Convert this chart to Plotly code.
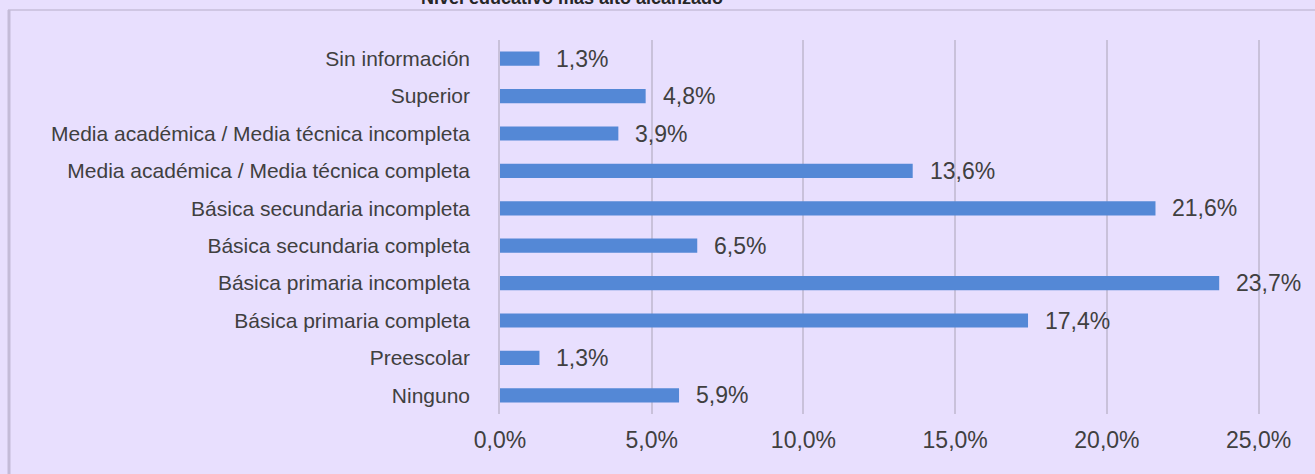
import plotly.graph_objects as go

categories = ["Ninguno", "Preescolar", "Básica primaria completa", "Básica primaria incompleta",
              "Básica secundaria completa", "Básica secundaria incompleta",
              "Media académica / Media técnica completa", "Media académica / Media técnica incompleta",
              "Superior", "Sin información"]
values = [5.9, 1.3, 17.4, 23.7, 6.5, 21.6, 13.6, 3.9, 4.8, 1.3]
value_labels = ["5,9%", "1,3%", "17,4%", "23,7%", "6,5%", "21,6%", "13,6%", "3,9%", "4,8%", "1,3%"]
tick_vals = [0, 5, 10, 15, 20, 25]
tick_text = ["0,0%", "5,0%", "10,0%", "15,0%", "20,0%", "25,0%"]
title = "Nivel educativo más alto alcanzado"

BG = "#E8DFFE"
GRID = "#C9C1DA"
FONT = "Liberation Sans, Arial, sans-serif"
TXT = "#404040"

W, H = 1315, 474
ml, mr, mt, mb = 500, 26, 40, 60
pw, ph = W - ml - mr, H - mt - mb

fig = go.Figure(go.Bar(
    x=values, y=categories, orientation="h",
    marker=dict(color="#5488D6", line=dict(width=0)),
    width=0.38, hoverinfo="skip",
))

for v, c, t in zip(values, categories, value_labels):
    fig.add_annotation(x=v, y=c, text=t, xanchor="left", yanchor="middle",
                       xshift=15, showarrow=False,
                       font=dict(family=FONT, size=23, color=TXT))

def px_x(p):
    return (p - ml) / pw

def px_y(p):
    return 1 - (p - mt) / ph

# outer chart frame
fig.add_shape(type="rect", xref="paper", yref="paper",
              x0=px_x(9), x1=px_x(1400), y0=px_y(600), y1=px_y(10),
              line=dict(color="#CFC6E3", width=2), fillcolor="rgba(0,0,0,0)", layer="below")
fig.add_shape(type="line", xref="paper", yref="paper",
              x0=px_x(9), x1=px_x(9), y0=px_y(600), y1=px_y(10),
              line=dict(color="#C4BBD8", width=3), layer="below")

fig.add_annotation(xref="paper", yref="paper", x=px_x(572), y=px_y(-2),
                   text="<b>" + title + "</b>", showarrow=False,
                   xanchor="center", yanchor="middle",
                   font=dict(family=FONT, size=18, color="#262626"))

fig.update_layout(
    width=W, height=H,
    margin=dict(l=ml, r=mr, t=mt, b=mb),
    paper_bgcolor=BG, plot_bgcolor=BG,
    showlegend=False,
    font=dict(family=FONT, color=TXT),
    xaxis=dict(range=[0, 26], tickvals=tick_vals, ticktext=tick_text,
               showgrid=True, gridcolor=GRID, gridwidth=1.5, zeroline=False,
               showline=False, ticks="", tickfont=dict(size=23, color=TXT),
               ticklabelstandoff=10, fixedrange=True),
    yaxis=dict(categoryorder="array", categoryarray=categories,
               showgrid=False, zeroline=False, showline=True, linecolor=GRID, linewidth=1.5,
               ticks="", tickfont=dict(size=21, color=TXT), ticklabelstandoff=24,
               range=[-0.5, 9.5], fixedrange=True),
)

fig.write_html("out.html", config={"displayModeBar": False},
               post_script="document.body.style.margin='0';document.body.style.overflow='hidden';")
